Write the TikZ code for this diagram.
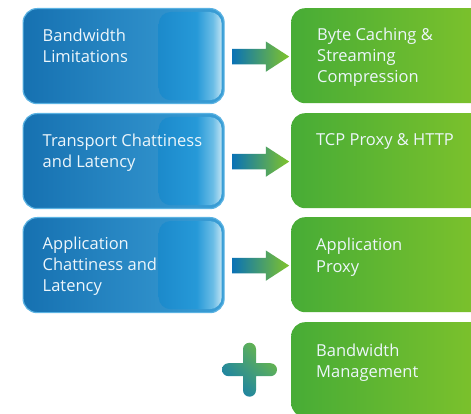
\documentclass[tikz,border=0pt]{standalone}
\usepackage{fontspec}
\setmainfont{Open Sans}
\usepackage{tikz}
\usetikzlibrary{calc,shapes.arrows,shadings}
\definecolor{boxblue}{HTML}{1671B1}
\definecolor{boxbluelight}{HTML}{3A9ED6}
\definecolor{boxedge}{HTML}{5AB2E2}
\definecolor{glossA}{HTML}{1C8ACB}
\definecolor{glossB}{HTML}{2699D8}
\definecolor{glossC}{HTML}{6BBDE6}
\definecolor{glossD}{HTML}{BFE3F3}
\definecolor{boxgreen}{HTML}{47AC36}
\definecolor{boxgreenlight}{HTML}{80C32B}
\definecolor{arrowblue}{HTML}{0A72B5}
\definecolor{arrowgreen}{HTML}{80C42A}
\definecolor{plusmid}{HTML}{3C9C86}
\definecolor{labeltext}{HTML}{EDF6FB}
\pgfdeclarehorizontalshading{glossy}{100bp}{color(0bp)=(glossA); color(25bp)=(glossA); color(55bp)=(glossB); color(68bp)=(glossC); color(75bp)=(glossD); color(100bp)=(glossD)}

\begin{document}
\begin{tikzpicture}[x=1pt,y=-1pt,
    bluebox/.style={anchor=north west, rectangle, rounded corners=14pt,
        minimum width=201pt, minimum height=95pt, inner sep=0pt,
        left color=boxblue, right color=boxbluelight, draw=boxedge, line width=1.2pt},
    greenbox/.style={anchor=north west, rectangle, rounded corners=14pt,
        minimum width=200pt, minimum height=95pt, inner sep=0pt,
        left color=boxgreen, right color=boxgreenlight},
    gloss/.style={rounded corners=12pt, shading=glossy},
    flowarrow/.style={single arrow, anchor=tail, minimum height=57pt, inner xsep=0pt,
        inner ysep=7.5pt, outer sep=0pt, single arrow head extend=7.5pt,
        single arrow tip angle=66, left color=arrowblue, right color=arrowgreen},
    boxtext/.style={anchor=base west, align=left, inner sep=0pt, text=labeltext,
        font=\fontsize{16.5}{21}\selectfont}]
    \clip (0,0) rectangle (471,414);
    \fill[white] (0,0) rectangle (471,414);

    % problems (base of a text = its last line)
    \node[bluebox] (b1) at (22.5,8) {};
    \node[bluebox] (b2) at (22.5,113) {};
    \node[bluebox] (b3) at (22.5,217) {};
    \shade[gloss] ([shift={(-66,4)}]b1.north east) rectangle ([shift={(-3,-4)}]b1.south east);
    \shade[gloss] ([shift={(-66,4)}]b2.north east) rectangle ([shift={(-3,-4)}]b2.south east);
    \shade[gloss] ([shift={(-66,4)}]b3.north east) rectangle ([shift={(-3,-4)}]b3.south east);
    \node[boxtext] (bt1) at ([shift={(20,54.5)}]b1.north west) {Bandwidth\\Limitations};
    \node[boxtext] (bt2) at ([shift={(20,54.5)}]b2.north west) {Transport Chattiness\\and Latency};
    \node[boxtext] (bt3) at ([shift={(20,74.5)}]b3.north west) {Application\\Chattiness and\\Latency};

    % solutions
    \node[greenbox] (g1) at (291,8) {};
    \node[greenbox] (g2) at (291,113) {};
    \node[greenbox] (g3) at (291,217) {};
    \node[greenbox] (g4) at (291,322) {};
    \node[boxtext] (gt1) at ([shift={(26,75)}]g1.north west) {Byte Caching \&\\Streaming\\Compression};
    \node[boxtext] (gt2) at ([shift={(25,33)}]g2.north west) {TCP Proxy \& HTTP};
    \node[boxtext] (gt3) at ([shift={(25,55)}]g3.north west) {Application\\Proxy};
    \node[boxtext] (gt4) at ([shift={(25,55)}]g4.north west) {Bandwidth\\Management};

    % arrows and plus
    \node[flowarrow] (a1) at ($(b1.east)+(7.5,0.5)$) {};
    \node[flowarrow] (a2) at ($(b2.east)+(7.5,0.5)$) {};
    \node[flowarrow] (a3) at ($(b3.east)+(7.5,0.5)$) {};
    \coordinate (pc) at ($(g4.west)+(-41.5,0)$);
    \shade[rounded corners=6.5pt, lower left=arrowblue, upper right=arrowgreen,
        upper left=plusmid, lower right=plusmid]
        ($(pc)+(-27.5,-6.5)$) rectangle ($(pc)+(27.5,6.5)$)
        ($(pc)+(-6.5,-27)$) rectangle ($(pc)+(6.5,27)$);
\end{tikzpicture}
\end{document}
